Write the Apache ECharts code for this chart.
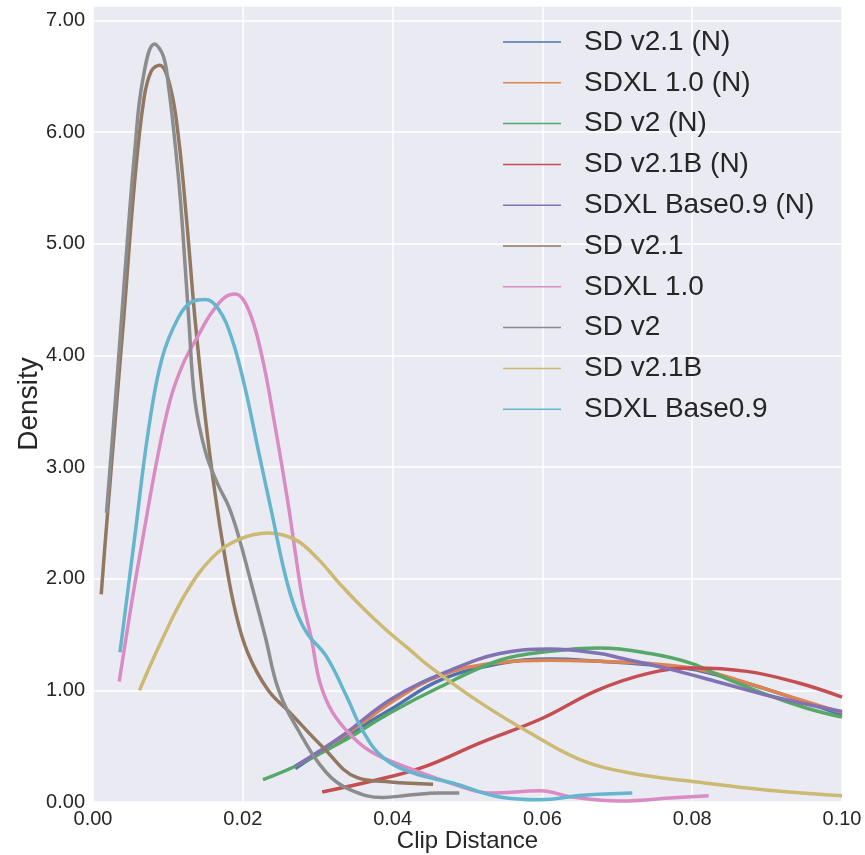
<!DOCTYPE html>
<html>
<head>
<meta charset="utf-8">
<script src="https://cdn.jsdelivr.net/npm/echarts@6/dist/echarts.min.js"></script>
<style>
html,body{margin:0;padding:0;background:#fff;}
#chart{width:865px;height:855px;}
</style>
</head>
<body>
<div id="chart"></div>
<script>
// Series names (legend order) and colors
const seriesNames = ['SD v2.1 (N)', 'SDXL 1.0 (N)', 'SD v2 (N)', 'SD v2.1B (N)', 'SDXL Base0.9 (N)',
  'SD v2.1', 'SDXL 1.0', 'SD v2', 'SD v2.1B', 'SDXL Base0.9'];
const seriesColors = ['#4C72B0', '#DD8452', '#55A868', '#C44E52', '#8172B3',
  '#937860', '#DA8BC3', '#8C8C8C', '#CCB974', '#64B5CD'];

// [clip distance, density] pairs
const sdv21N = [[0.0270,0.30],[0.0330,0.56],[0.0400,0.84],[0.0463,1.09],[0.0543,1.24],[0.0610,1.28],[0.0677,1.26],[0.0744,1.23],[0.0800,1.19],[0.0837,1.13],[0.0904,1.00],[0.1000,0.78]];
const sdxl10N = [[0.0296,0.42],[0.0352,0.67],[0.0400,0.90],[0.0463,1.13],[0.0543,1.25],[0.0610,1.27],[0.0677,1.26],[0.0744,1.24],[0.0800,1.20],[0.0837,1.14],[0.0904,1.00],[0.1000,0.80]];
const sdv2N = [[0.0227,0.20],[0.0270,0.32],[0.0330,0.53],[0.0397,0.80],[0.0463,1.03],[0.0543,1.27],[0.0610,1.35],[0.0677,1.38],[0.0744,1.33],[0.0800,1.24],[0.0837,1.13],[0.0904,0.95],[0.0953,0.84],[0.1000,0.76]];
const sdv21bN = [[0.0306,0.09],[0.0374,0.19],[0.0440,0.31],[0.0517,0.53],[0.0600,0.75],[0.0673,1.00],[0.0740,1.15],[0.0800,1.20],[0.0873,1.17],[0.0940,1.07],[0.1000,0.94]];
const sdxlb09N = [[0.0270,0.32],[0.0330,0.58],[0.0400,0.93],[0.0477,1.18],[0.0543,1.33],[0.0610,1.37],[0.0677,1.33],[0.0704,1.29],[0.0770,1.19],[0.0837,1.07],[0.0904,0.95],[0.1000,0.81]];
const sdv21 = [[0.0011,1.86],[0.0016,2.30],[0.0030,3.45],[0.0041,4.33],[0.0055,5.51],[0.0068,6.30],[0.0078,6.55],[0.0089,6.60],[0.0103,6.41],[0.0114,5.96],[0.0125,5.21],[0.0136,4.34],[0.0150,3.44],[0.0163,2.76],[0.0176,2.20],[0.0190,1.71],[0.0207,1.33],[0.0234,1.00],[0.0263,0.80],[0.0307,0.49],[0.0352,0.22],[0.0397,0.18],[0.0454,0.16]];
const sdxl10 = [[0.0035,1.08],[0.0052,1.80],[0.0067,2.38],[0.0085,3.05],[0.0103,3.60],[0.0120,3.92],[0.0139,4.16],[0.0158,4.38],[0.0176,4.52],[0.0190,4.55],[0.0207,4.42],[0.0225,4.01],[0.0243,3.37],[0.0261,2.65],[0.0270,2.24],[0.0280,1.81],[0.0292,1.45],[0.0303,1.07],[0.0320,0.80],[0.0347,0.58],[0.0374,0.44],[0.0419,0.31],[0.0486,0.15],[0.0530,0.08],[0.0597,0.10],[0.0640,0.045],[0.0704,0.01],[0.0770,0.035],[0.0822,0.055]];
const sdv2 = [[0.0018,2.59],[0.0032,3.78],[0.0045,4.95],[0.0056,5.85],[0.0066,6.45],[0.0082,6.79],[0.0094,6.68],[0.0101,6.40],[0.0108,6.00],[0.0116,5.45],[0.0121,5.00],[0.0128,4.31],[0.0136,3.60],[0.0150,3.14],[0.0167,2.84],[0.0181,2.65],[0.0194,2.39],[0.0212,1.94],[0.0230,1.48],[0.0248,1.00],[0.0276,0.62],[0.0312,0.26],[0.0343,0.11],[0.0387,0.04],[0.0420,0.06],[0.0463,0.08],[0.0489,0.08]];
const sdv21b = [[0.0062,1.00],[0.0092,1.45],[0.0123,1.86],[0.0158,2.18],[0.0194,2.35],[0.0234,2.41],[0.0270,2.35],[0.0300,2.18],[0.0330,1.95],[0.0360,1.74],[0.0390,1.55],[0.0420,1.38],[0.0450,1.21],[0.0517,0.89],[0.0583,0.62],[0.0650,0.38],[0.0717,0.26],[0.0806,0.18],[0.0895,0.11],[0.1000,0.055]];
const sdxlb09 = [[0.0036,1.34],[0.0056,2.39],[0.0074,3.33],[0.0092,3.97],[0.0114,4.34],[0.0132,4.48],[0.0150,4.50],[0.0167,4.42],[0.0185,4.16],[0.0203,3.71],[0.0221,3.14],[0.0239,2.58],[0.0256,2.05],[0.0270,1.73],[0.0286,1.51],[0.0312,1.30],[0.0339,0.94],[0.0360,0.64],[0.0387,0.40],[0.0427,0.26],[0.0480,0.17],[0.0543,0.045],[0.0597,0.02],[0.0654,0.06],[0.0720,0.08]];

const seriesData = [sdv21N, sdxl10N, sdv2N, sdv21bN, sdxlb09N, sdv21, sdxl10, sdv2, sdv21b, sdxlb09];

// Axis ticks
const xTicks = [0, 0.02, 0.04, 0.06, 0.08, 0.10];
const yTicks = [0, 1, 2, 3, 4, 5, 6, 7];

const FONT = 'Liberation Sans';
const TXT = '#262626';

const chart = echarts.init(document.getElementById('chart'), null, {renderer: 'canvas'});
chart.setOption({
  backgroundColor: '#ffffff',
  animation: false,
  grid: {left: 93, right: 23, top: 6, bottom: 53, show: true, backgroundColor: '#EAEAF2', borderWidth: 0,
    outerBoundsMode: 'none', containLabel: false},
  legend: {
    data: seriesNames,
    orient: 'vertical',
    left: 503,
    top: 28,
    padding: 0,
    itemGap: 12.8,
    itemWidth: 58,
    itemHeight: 1.5,
    icon: 'rect',
    textStyle: {fontFamily: FONT, fontSize: 28, color: TXT, lineHeight: 28, padding: [0, 0, 0, 18]}
  },
  xAxis: {
    type: 'value',
    min: xTicks[0],
    max: xTicks[xTicks.length - 1],
    interval: 0.02,
    name: 'Clip Distance',
    nameLocation: 'middle',
    nameGap: 27,
    nameMoveOverlap: false,
    nameTextStyle: {fontFamily: FONT, fontSize: 24, color: TXT},
    axisLine: {show: false},
    axisTick: {show: false},
    axisLabel: {fontFamily: FONT, fontSize: 20, color: TXT, margin: 7,
      formatter: v => v.toFixed(2)},
    splitLine: {show: true, lineStyle: {color: '#ffffff', width: 1.5}}
  },
  yAxis: {
    type: 'value',
    min: yTicks[0],
    max: 7.13,
    interval: 1,
    name: 'Density',
    nameLocation: 'middle',
    nameGap: 50,
    nameMoveOverlap: false,
    nameTextStyle: {fontFamily: FONT, fontSize: 28, color: TXT},
    axisLine: {show: false},
    axisTick: {show: false},
    axisLabel: {fontFamily: FONT, fontSize: 20, color: TXT, margin: 8, showMaxLabel: false,
      formatter: v => (Math.abs(v - Math.round(v)) < 1e-6 ? v.toFixed(2) : '')},
    splitLine: {show: true, lineStyle: {color: '#ffffff', width: 1.5}}
  },
  series: seriesNames.map((name, i) => ({
    name: name,
    type: 'line',
    data: seriesData[i],
    smooth: 0.4,
    showSymbol: false,
    symbol: 'none',
    color: seriesColors[i],
    lineStyle: {width: 3.5, color: seriesColors[i]},
    itemStyle: {color: seriesColors[i]},
    clip: true
  }))
});
</script>
</body>
</html>
